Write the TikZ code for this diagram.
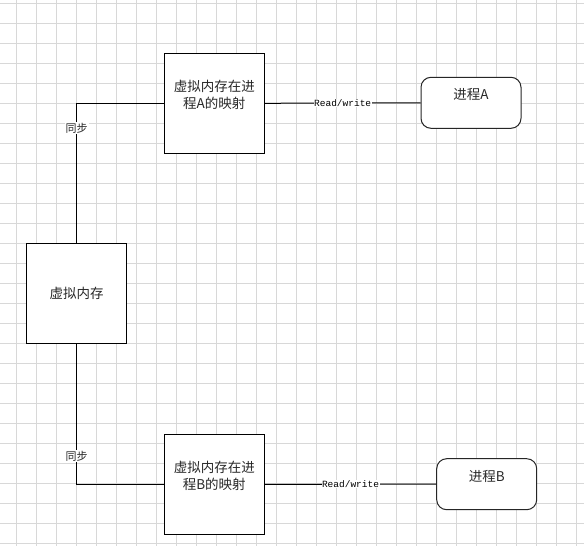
\documentclass[tikz,border=0pt]{standalone}
\usepackage{fontspec}
\setmonofont{Liberation Mono}
\newfontfamily\cjk{Noto Sans CJK SC}
\definecolor{gridc}{RGB}{216,216,216}
\definecolor{txtc}{RGB}{40,40,40}
\begin{document}
\begin{tikzpicture}[x=1pt,y=-1pt,
  box/.style={draw=black, line width=1.2pt, fill=white, minimum width=100pt, minimum height=100pt,
    inner sep=0pt, align=center, text=txtc, font=\cjk\fontsize{13.5}{17.5}\selectfont},
  proc/.style={draw=black!85, line width=1pt, fill=white, rounded corners=10pt, minimum width=100pt,
    minimum height=51pt, inner sep=0pt, align=center, text=txtc, font=\cjk\fontsize{13.5}{17.5}\selectfont},
  conn/.style={draw=black, line width=1pt},
  rwlabel/.style={fill=white, inner sep=0.5pt, text=black, font=\ttfamily\fontsize{9.5}{11}\selectfont},
  synclabel/.style={fill=white, inner sep=1pt, text=txtc, font=\cjk\fontsize{11}{13}\selectfont}]
\useasboundingbox (0,0) rectangle (584,546);
\fill[white] (0,0) rectangle (584,546);
\foreach \gx in {16.5,36.5,...,584} \draw[gridc, line width=0.8pt] (\gx,0) -- (\gx,546);
\foreach \gy in {3.3,23.3,...,546} \draw[gridc, line width=0.8pt] (0,\gy) -- (584,\gy);

\node[box] (mapA) at (214.3,103.3) {虚拟内存在进\\程A的映射\\ };
\node[proc] (procA) at (471,102.8) {进程A\\ };
\node[box] (mem) at (76.7,293.3) {虚拟内存};
\node[box] (mapB) at (214.3,484.3) {虚拟内存在进\\程B的映射\\ };
\node[proc] (procB) at (486.7,484.2) {进程B\\ };

\draw[conn] (mem.north) |- node[synclabel, pos=0.41] (syncA) {同步} (mapA.west);
\draw[conn] (mem.south) |- node[synclabel, pos=0.40] (syncB) {同步} (mapB.west);
\draw[conn] (mapA.east) -- node[rwlabel] (rwA) {Read/write} (procA.west);
\draw[conn] (mapB.east) -- node[rwlabel] (rwB) {Read/write} (procB.west);
\end{tikzpicture}
\end{document}
